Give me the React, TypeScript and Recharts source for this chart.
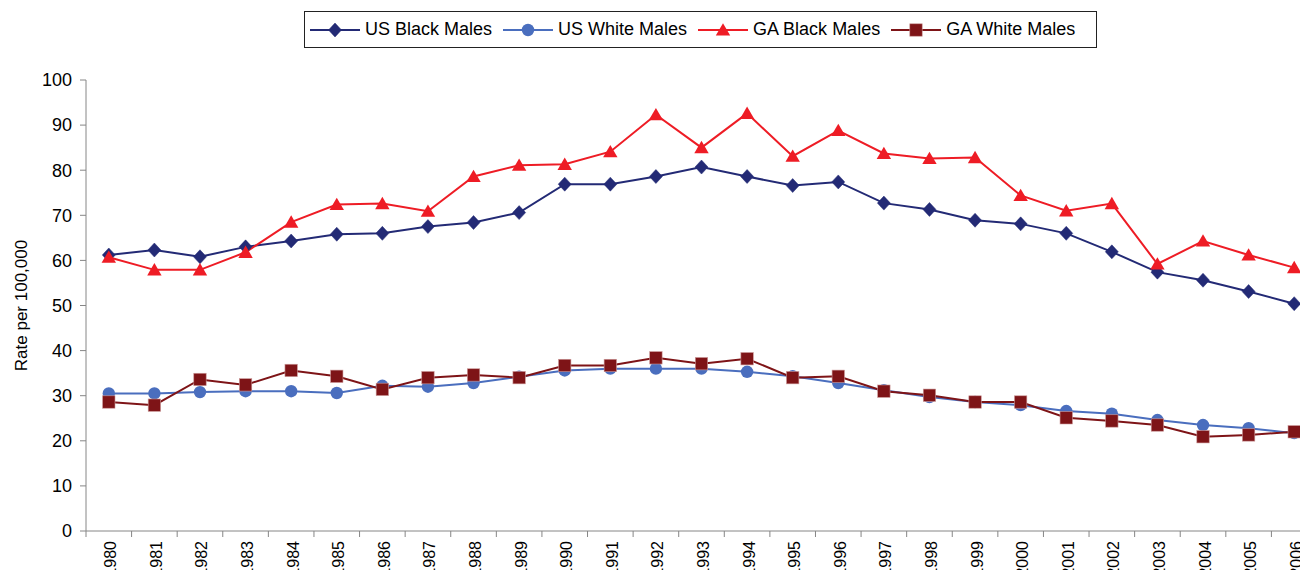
import React from 'react';
import { LineChart, Line, XAxis, YAxis, Legend } from 'recharts';

const years = ['1980', '1981', '1982', '1983', '1984', '1985', '1986', '1987', '1988', '1989', '1990', '1991', '1992', '1993', '1994', '1995', '1996', '1997', '1998', '1999', '2000', '2001', '2002', '2003', '2004', '2005', '2006'];
const usBlackMales = [61.2, 62.3, 60.8, 63.0, 64.3, 65.8, 66.0, 67.5, 68.4, 70.6, 76.9, 76.9, 78.6, 80.7, 78.6, 76.6, 77.4, 72.7, 71.3, 68.9, 68.1, 66.0, 61.9, 57.4, 55.6, 53.1, 50.4];
const usWhiteMales = [30.5, 30.5, 30.8, 31.0, 31.0, 30.6, 32.2, 32.0, 32.8, 34.2, 35.6, 36.0, 36.0, 36.0, 35.3, 34.3, 32.8, 31.2, 29.7, 28.6, 27.9, 26.6, 26.0, 24.6, 23.5, 22.8, 21.7];
const gaBlackMales = [60.7, 57.9, 57.9, 61.8, 68.5, 72.4, 72.6, 70.9, 78.6, 81.1, 81.3, 84.1, 92.3, 85.0, 92.6, 83.1, 88.8, 83.7, 82.6, 82.8, 74.4, 71.0, 72.6, 59.2, 64.3, 61.2, 58.4];
const gaWhiteMales = [28.6, 27.9, 33.6, 32.4, 35.6, 34.3, 31.4, 34.0, 34.6, 34.0, 36.7, 36.7, 38.4, 37.1, 38.2, 34.0, 34.3, 31.0, 30.1, 28.6, 28.6, 25.1, 24.4, 23.5, 20.9, 21.3, 22.0];
const yTicks = [0, 10, 20, 30, 40, 50, 60, 70, 80, 90, 100];

const FONT = '"Liberation Sans", Arial, sans-serif';
const AXIS = '#868686';

const C_USB = '#232A75';
const C_USW = '#4A6EBE';
const C_GAB = '#EE1C25';
const C_GAW = '#7E1417';

const data = years.map((y, i) => ({
  pos: i + 0.5,
  year: y,
  usb: usBlackMales[i],
  usw: usWhiteMales[i],
  gab: gaBlackMales[i],
  gaw: gaWhiteMales[i],
}));

const xTicks: number[] = [];
for (let i = 0; i <= years.length; i++) {
  xTicks.push(i);
  if (i < years.length) xTicks.push(i + 0.5);
}

type Shape = 'diamond' | 'circle' | 'triangle' | 'square';

const Marker = ({ cx, cy, shape, color }: { cx: number; cy: number; shape: Shape; color: string }) => {
  if (shape === 'diamond') {
    return <polygon points={`${cx},${cy - 7} ${cx + 6.5},${cy} ${cx},${cy + 7} ${cx - 6.5},${cy}`} fill={color} stroke={color} strokeWidth={0.5} />;
  }
  if (shape === 'circle') {
    return <circle cx={cx} cy={cy} r={6.2} fill={color} />;
  }
  if (shape === 'triangle') {
    return <polygon points={`${cx},${cy - 6.8} ${cx + 7.2},${cy + 5.6} ${cx - 7.2},${cy + 5.6}`} fill={color} />;
  }
  return <rect x={cx - 6.2} y={cy - 6.2} width={12.4} height={12.4} fill={color} stroke="#c99" strokeWidth={0.6} />;
};

const makeDot = (shape: Shape, color: string) => (props: any) => {
  const { cx, cy, index } = props;
  if (cx == null || cy == null) return <g key={`e-${shape}-${index}`} />;
  return <Marker key={`${shape}-${index}`} cx={cx} cy={cy} shape={shape} color={color} />;
};

const XTick = (props: any) => {
  const { x, y, payload } = props;
  const v = payload.value as number;
  if (Number.isInteger(v)) {
    return <line x1={x} x2={x} y1={y - 6} y2={y} stroke={AXIS} strokeWidth={1} />;
  }
  const label = years[Math.floor(v)];
  return (
    <text
      transform={`translate(${x},${y + 4}) rotate(-90)`}
      textAnchor="end"
      dy={7.5}
      fontSize={16}
      fontFamily={FONT}
      fill="#000"
    >
      {label}
    </text>
  );
};

const legendItems: { name: string; shape: Shape; color: string }[] = [
  { name: 'US Black Males', shape: 'diamond', color: C_USB },
  { name: 'US White Males', shape: 'circle', color: C_USW },
  { name: 'GA Black Males', shape: 'triangle', color: C_GAB },
  { name: 'GA White Males', shape: 'square', color: C_GAW },
];

const LegendContent = () => (
  <div
    style={{
      display: 'flex',
      alignItems: 'center',
      border: '1px solid #222',
      height: 35,
      padding: '0 21px 0 5px',
      background: '#fff',
      fontFamily: FONT,
      fontSize: 18,
      color: '#000',
      whiteSpace: 'nowrap',
    }}
  >
    {legendItems.map((it, i) => (
      <div key={it.name} style={{ display: 'flex', alignItems: 'center', marginRight: i < legendItems.length - 1 ? 11 : 0 }}>
        <svg width={50} height={16} style={{ display: 'block' }}>
          <line x1={0} x2={50} y1={8} y2={8} stroke={it.color} strokeWidth={2} />
          <Marker cx={25} cy={8} shape={it.shape} color={it.color} />
        </svg>
        <span style={{ marginLeft: 5 }}>{it.name}</span>
      </div>
    ))}
  </div>
);

const YLabel = (props: any) => {
  const vb = props.viewBox || { x: 0, y: 0, width: 0, height: 0 };
  const cx = vb.x + 13;
  const cy = vb.y + vb.height / 2;
  return (
    <text
      x={cx}
      y={cy}
      transform={`rotate(-90 ${cx} ${cy})`}
      textAnchor="middle"
      dominantBaseline="central"
      fontSize={17}
      fontFamily={FONT}
      fill="#000"
    >
      Rate per 100,000
    </text>
  );
};

export default function App() {
  return (
    <div style={{ width: 1300, height: 570, overflow: 'hidden', position: 'relative', marginBottom: -8, background: '#fff' }}>
      <LineChart
        width={1313}
        height={590}
        data={data}
        margin={{ top: 72, right: 4, bottom: 7, left: 0 }}
      >
        <XAxis
          dataKey="pos"
          type="number"
          domain={[0, years.length]}
          ticks={xTicks}
          interval={0}
          tick={<XTick />}
          tickLine={false}
          tickSize={6}
          tickMargin={0}
          height={60}
          axisLine={{ stroke: AXIS, strokeWidth: 1 }}
        />
        <YAxis
          domain={[0, 100]}
          ticks={yTicks}
          interval={0}
          width={78}
          tickSize={6}
          tickMargin={8}
          tick={{ fontSize: 18, fill: '#000', fontFamily: FONT }}
          tickLine={{ stroke: AXIS }}
          axisLine={{ stroke: AXIS, strokeWidth: 1 }}
          label={<YLabel />}
        />
        <Legend
          layout="horizontal"
          verticalAlign="middle"
          align="center"
          content={<LegendContent />}
          wrapperStyle={{ top: 3, left: 296, width: 'auto', height: 'auto' }}
        />
        <Line dataKey="usb" name="US Black Males" stroke={C_USB} strokeWidth={2} dot={makeDot('diamond', C_USB)} isAnimationActive={false} />
        <Line dataKey="usw" name="US White Males" stroke={C_USW} strokeWidth={2} dot={makeDot('circle', C_USW)} isAnimationActive={false} />
        <Line dataKey="gab" name="GA Black Males" stroke={C_GAB} strokeWidth={2} dot={makeDot('triangle', C_GAB)} isAnimationActive={false} />
        <Line dataKey="gaw" name="GA White Males" stroke={C_GAW} strokeWidth={2} dot={makeDot('square', C_GAW)} isAnimationActive={false} />
      </LineChart>
    </div>
  );
}
